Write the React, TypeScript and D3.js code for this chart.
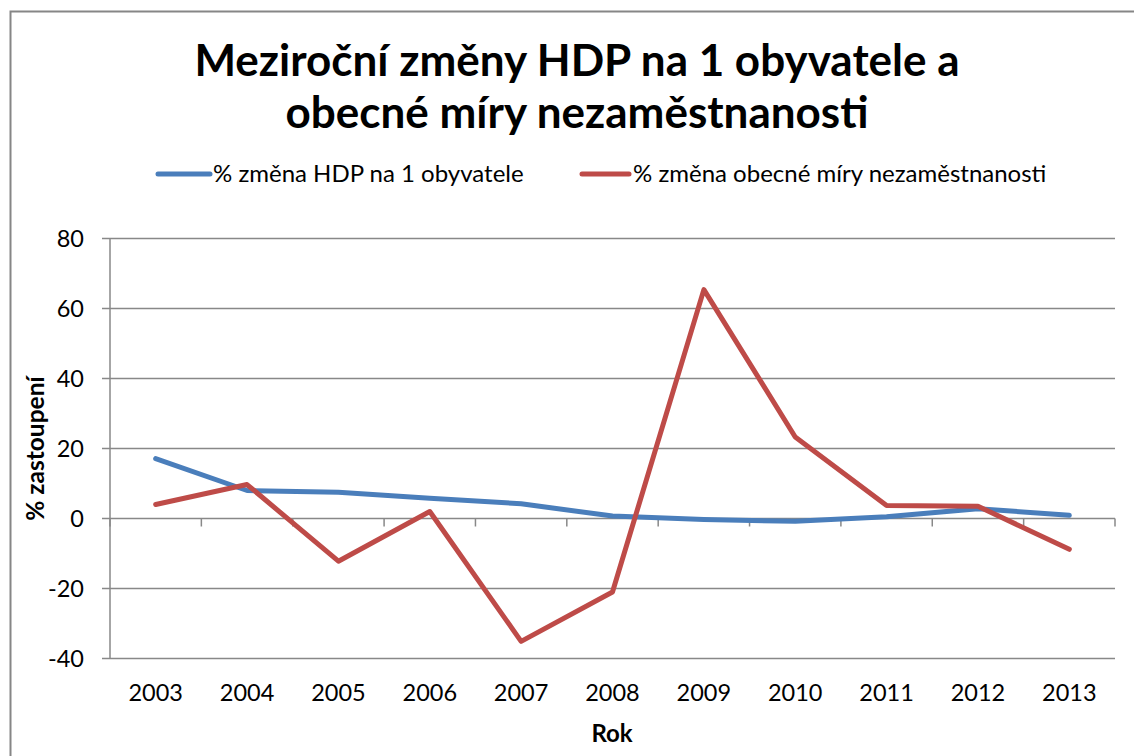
import * as d3 from 'd3'

const years = ['2003', '2004', '2005', '2006', '2007', '2008', '2009', '2010', '2011', '2012', '2013']
const hdp = [17.1, 8.0, 7.5, 5.8, 4.2, 0.7, -0.3, -0.8, 0.5, 2.8, 0.9]
const nezam = [4.0, 9.7, -12.2, 2.0, -35.1, -21.0, 65.4, 23.3, 3.7, 3.5, -8.8]
const yTicks = [-40, -20, 0, 20, 40, 60, 80]

const titleLines = ['Meziroční změny HDP na 1 obyvatele a', 'obecné míry nezaměstnanosti']
const seriesNames = ['% změna HDP na 1 obyvatele', '% změna obecné míry nezaměstnanosti']
const BLUE = '#4a7ebb'
const RED = '#be4b48'
const GRID = '#888888'
const FONT = 'Lato, "Open Sans", sans-serif'

export default function App() {
  const width = 1134
  const height = 756
  const plot = { left: 110, right: 1115, top: 238.5, bottom: 658.5 }

  const x = d3.scaleBand<string>().domain(years).range([plot.left, plot.right])
  const y = d3.scaleLinear().domain([-40, 80]).range([plot.bottom, plot.top])
  const cx = (d: string) => (x(d) ?? 0) + x.bandwidth() / 2

  const line = d3.line<number>()
    .x((_, i) => cx(years[i]))
    .y(d => y(d))

  const boundaries = years.map(d => x(d) ?? 0).concat([plot.right])

  return (
    <svg width={width} height={height} style={{ position: 'absolute', left: 0, top: 0, background: '#fff' }}
      fontFamily={FONT}>
      <rect x={10.5} y={11.5} width={width + 20} height={height + 20} fill="#fff" stroke="#868686" strokeWidth={2} />

      {/* Title */}
      <text x={577} y={76} textAnchor="middle" fontSize={44} fontWeight="bold" fill="#000">{titleLines[0]}</text>
      <text x={577} y={128} textAnchor="middle" fontSize={44} fontWeight="bold" fill="#000">{titleLines[1]}</text>

      {/* Legend */}
      <g>
        <line x1={158} x2={210} y1={174} y2={174} stroke={BLUE} strokeWidth={5} strokeLinecap="round" />
        <text x={213} y={182} fontSize={24} fill="#000">{seriesNames[0]}</text>
        <line x1={582} x2={629} y1={174} y2={174} stroke={RED} strokeWidth={5} strokeLinecap="round" />
        <text x={633} y={182} fontSize={24} fill="#000">{seriesNames[1]}</text>
      </g>

      {/* Grid + y ticks */}
      {yTicks.filter(t => t !== 0).map(t => (
        <line key={t} x1={plot.left - 8} x2={plot.right} y1={y(t)} y2={y(t)} stroke={GRID} strokeWidth={1.5} />
      ))}
      {yTicks.map(t => (
        <text key={'l' + t} x={84} y={y(t)} dy="0.35em" textAnchor="end" fontSize={23.5} fill="#000">{t}</text>
      ))}
      <line x1={plot.left} x2={plot.left} y1={plot.top} y2={plot.bottom} stroke={GRID} strokeWidth={1.5} />
      <line x1={plot.left - 8} x2={plot.right} y1={y(0)} y2={y(0)} stroke={GRID} strokeWidth={1.5} />
      {boundaries.map((b, i) => (
        <line key={'t' + i} x1={b} x2={b} y1={y(0)} y2={y(0) + 8} stroke={GRID} strokeWidth={1.5} />
      ))}

      {/* X labels */}
      {years.map(d => (
        <text key={d} x={cx(d)} y={701} textAnchor="middle" fontSize={23.5} fill="#000">{d}</text>
      ))}

      {/* Series */}
      <path d={line(hdp) ?? ''} fill="none" stroke={BLUE} strokeWidth={5} strokeLinejoin="round" strokeLinecap="round" />
      <path d={line(nezam) ?? ''} fill="none" stroke={RED} strokeWidth={5} strokeLinejoin="round" strokeLinecap="round" />

      {/* Axis titles */}
      <text x={612} y={742} textAnchor="middle" fontSize={24} fontWeight="bold" fill="#000">Rok</text>
      <text transform={`translate(44,${(plot.top + plot.bottom) / 2}) rotate(-90)`} textAnchor="middle"
        fontSize={24.5} fontWeight="bold" fill="#000">% zastoupení</text>
    </svg>
  )
}
